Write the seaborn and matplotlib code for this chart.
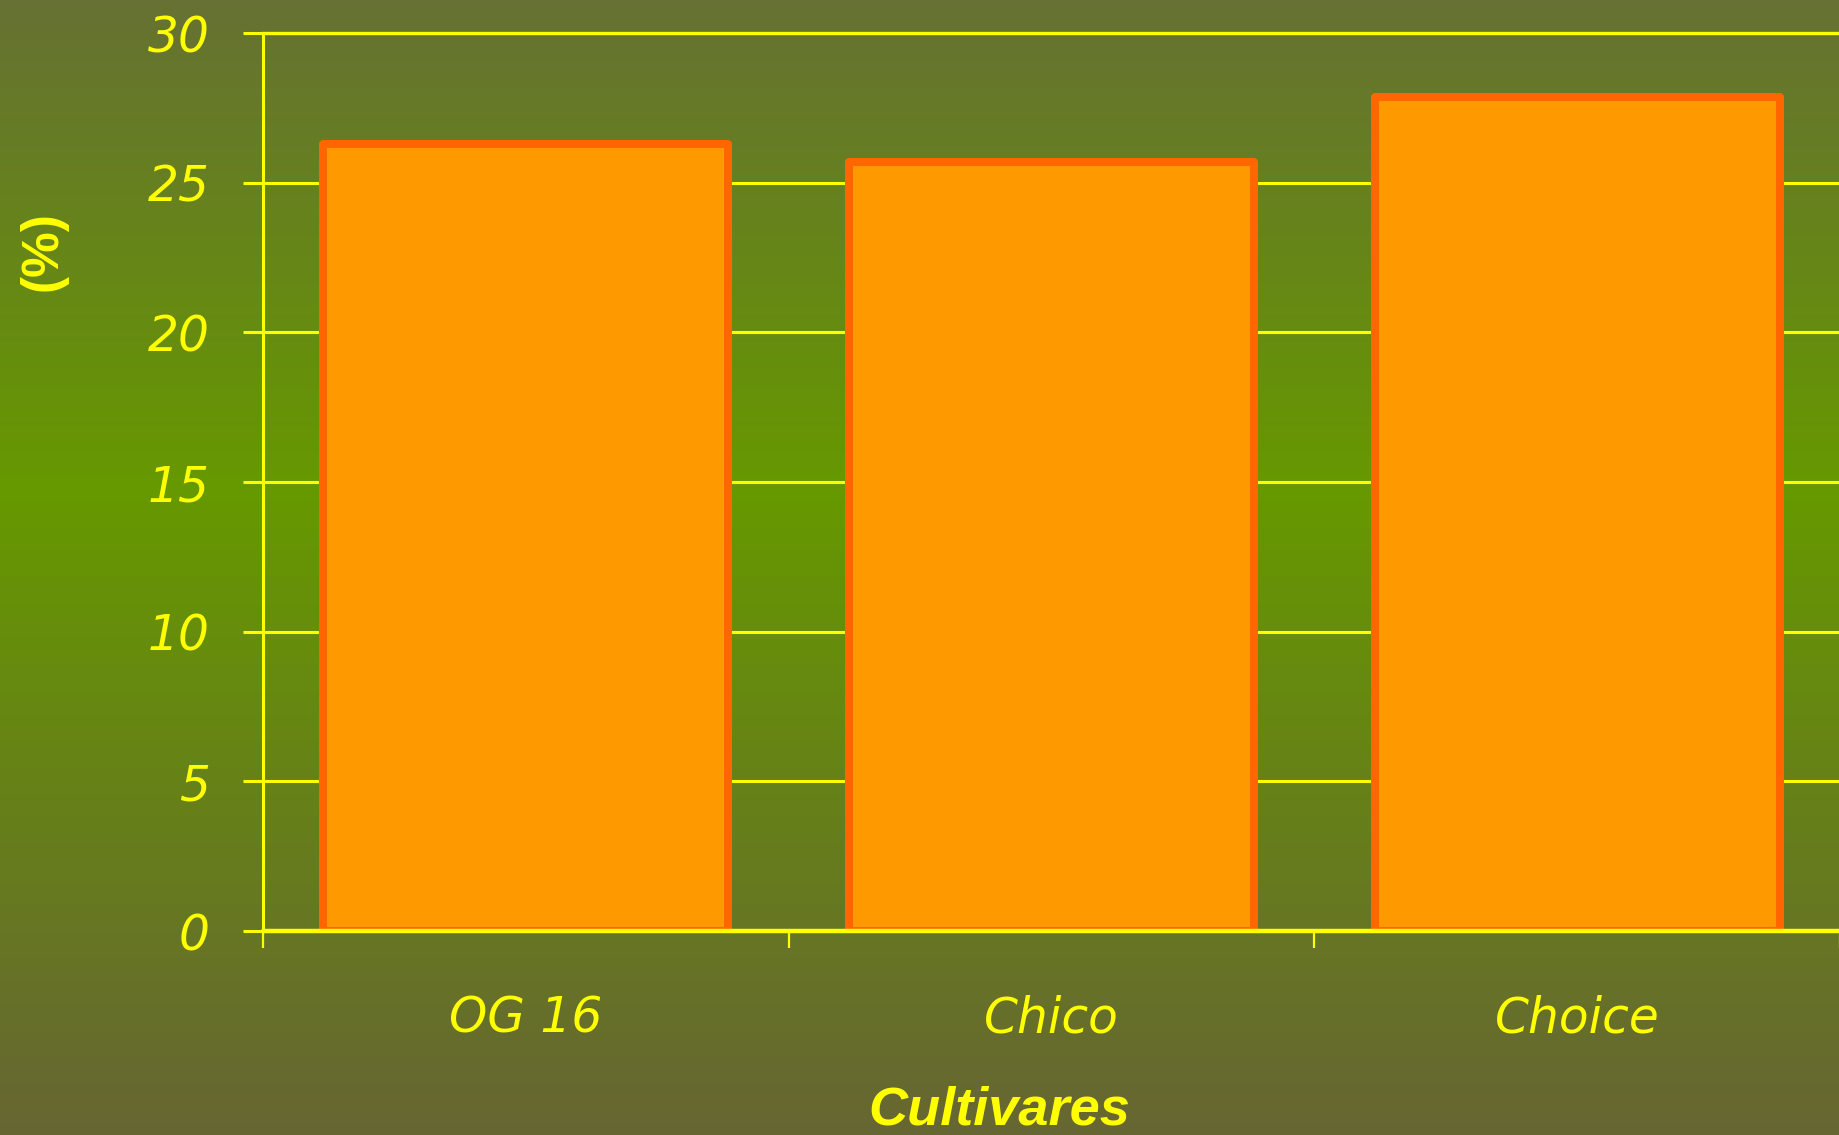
import matplotlib
matplotlib.use("Agg")
import matplotlib.pyplot as plt
import numpy as np
import seaborn as sns
from matplotlib.colors import LinearSegmentedColormap

cultivares = ["OG 16", "Chico", "Choice"]
valores = [26.3, 25.7, 27.85]
yticks = [0, 5, 10, 15, 20, 25, 30]

AMARELO = "#FFFF00"
LARANJA = "#FF9900"
BORDA = "#FF6600"

sns.set_style("ticks")
plt.rcParams["font.family"] = ["DejaVu Sans"]

fig = plt.figure(figsize=(18.4, 11.35), dpi=100)

# fundo em degradê vertical
bg = fig.add_axes([0, 0, 1, 1], zorder=-10)
cmap = LinearSegmentedColormap.from_list(
    "fundo", [(0.0, "#667133"), (0.43, "#669900"), (1.0, "#666633")]
)
bg.imshow(np.linspace(0, 1, 256).reshape(-1, 1), aspect="auto", cmap=cmap,
          extent=[0, 1, 0, 1])
bg.axis("off")

ax = fig.add_axes([0.1429, 0.1797, 0.8571, 0.7912])
ax.set_facecolor("none")

sns.barplot(x=cultivares, y=valores, color=LARANJA, saturation=1,
            edgecolor=BORDA, linewidth=5.8, width=0.77, ax=ax, zorder=3)
for p in ax.patches:
    p.set_joinstyle("round")

ax.set_xlim(-0.5, 2.5)
ax.set_ylim(0, 30)
ax.set_yticks(yticks)
ax.set_yticklabels([str(t) for t in yticks])
ax.set_xticks([-0.5, 0.5, 1.5, 2.5], minor=True)

ax.yaxis.grid(True, color=AMARELO, linewidth=2.2, zorder=1)
ax.set_axisbelow(True)

for side in ["right", "bottom"]:
    ax.spines[side].set_visible(False)
ax.spines["left"].set_color(AMARELO)
ax.spines["left"].set_linewidth(2.2)
ax.spines["top"].set_color(AMARELO)
ax.spines["top"].set_linewidth(2.4)

ax.axhline(0, color=AMARELO, linewidth=3.2, zorder=6, clip_on=False)

ax.tick_params(axis="y", which="major", length=14.4, width=2.2, color=AMARELO,
               labelcolor=AMARELO, labelsize=35, pad=24)
ax.tick_params(axis="x", which="major", length=0, labelcolor=AMARELO,
               labelsize=35, pad=46)
ax.tick_params(axis="x", which="minor", length=12.2, width=1.6, color=AMARELO)
for lab in ax.get_xticklabels() + ax.get_yticklabels():
    lab.set_fontstyle("italic")

ax.set_xlabel("Cultivares", color=AMARELO, fontsize=39, fontweight="bold",
              fontstyle="italic", family=["Liberation Sans", "DejaVu Sans"])
ax.xaxis.set_label_coords(0.467, -0.172)
ax.set_ylabel("(%)", color=AMARELO, fontsize=37, fontweight="bold",
              family=["Liberation Sans", "DejaVu Sans"])
ax.yaxis.set_label_coords(-0.124, 0.757)

fig.savefig("out.png", dpi=100)
